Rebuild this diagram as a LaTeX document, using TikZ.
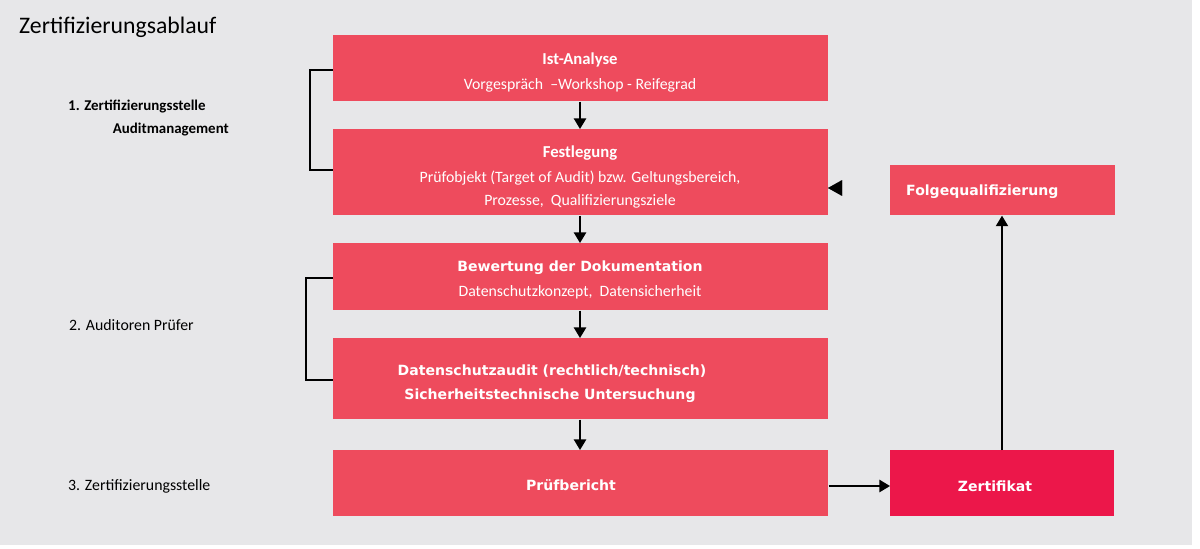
\documentclass[tikz,border=0pt]{standalone}
\usepackage{fontspec}
\setmainfont{Carlito}
\newfontfamily\vb{DejaVu Sans}
\usetikzlibrary{arrows.meta}
\definecolor{bg}{HTML}{E7E7E9}
\definecolor{boxc}{HTML}{EE4B5D}
\definecolor{certc}{HTML}{EC174A}
\begin{document}
\begin{tikzpicture}[x=0.02cm,y=-0.02cm,
  box/.style={draw=none,fill=boxc,minimum width=9.9cm,anchor=north west,inner sep=0},
  wt/.style={text=white,font=\fontsize{9}{11}\selectfont,align=center},
  bt/.style={text=white,font=\vb\bfseries\fontsize{8}{10}\selectfont,align=center},
  lab/.style={font=\fontsize{9}{11}\selectfont,anchor=west},
  arr/.style={-{Triangle[length=6pt,width=7pt]},line width=0.8pt},
  brk/.style={line width=0.8pt}]
\fill[white] (0,0) rectangle (1200,548);
\fill[bg] (0,0) rectangle (1192,545);
\useasboundingbox (0,0) rectangle (1200,548);
\node[anchor=west,font=\fontsize{13.5}{16}\selectfont] (title) at (13,27) {Zertifizierungsablauf};
% boxes
\node[box,minimum height=1.32cm] (b1) at (333,35) {};
\node[box,minimum height=1.72cm] (b2) at (333,129) {};
\node[box,minimum height=1.34cm] (b3) at (333,243) {};
\node[box,minimum height=1.62cm] (b4) at (333,338) {};
\node[box,minimum height=1.32cm] (b5) at (333,450) {};
\node[box,minimum width=4.5cm,minimum height=1.0cm] (f) at (890,165) {};
\node[box,fill=certc,minimum width=4.48cm,minimum height=1.32cm] (z) at (890,450) {};
% texts
\node[wt,font=\bfseries\fontsize{9.5}{11}\selectfont] (t1) at (580,60) {Ist-Analyse};
\begin{scope}\clip (b1.south west) rectangle (b1.north east);
\node[wt] (s1) at (580,85) {Vorgespräch\ \ –Workshop - Reifegrad};\end{scope}
\node[wt,font=\bfseries\fontsize{9.5}{11}\selectfont] (t2) at (580,153) {Festlegung};
\begin{scope}\clip (b2.south west) rectangle (b2.north east);
\node[wt] (s2) at (580,178) {Prüfobjekt\ (Target of Audit) bzw. Geltungsbereich,};
\node[wt] (s2b) at (580,201) {Prozesse,\ \ Qualifizierungsziele};\end{scope}
\node[bt] (t3) at (580,268) {Bewertung der Dokumentation};
\node[wt] (s3) at (580,292) {Datenschutzkonzept,\ \ Datensicherheit};
\begin{scope}\clip (b4.south west) rectangle (b4.north east);
\node[bt] (t4) at (552,371) {Datenschutzaudit (rechtlich/technisch)};
\node[bt] (t4b) at (550,396) {Sicherheitstechnische Untersuchung};\end{scope}
\node[bt] (t5) at (571,485) {Prüfbericht};
\node[bt,anchor=west] (tf) at (900,192) {Folgequalifizierung};
\node[bt] (tz) at (995,486) {Zertifikat};
% left labels
\node[lab,font=\bfseries\fontsize{8.5}{10}\selectfont] (l1) at (62,107) {1. Zertifizierungsstelle};
\node[lab,font=\bfseries\fontsize{8.5}{10}\selectfont,anchor=east] (l1b) at (235,130) {Auditmanagement};
\node[lab] (l2) at (63,325) {2. Auditoren Prüfer};
\node[lab] (l3) at (62,486) {3. Zertifizierungsstelle};
% brackets
\draw[brk] (333,70) -- (310,70) -- (310,170) -- (333,170);
\draw[brk] (333,278) -- (306,278) -- (306,380) -- (333,380);
% arrows
\draw[arr] (b1.south -| 580,0) -- (b2.north -| 580,0);
\draw[arr] (b2.south -| 580,0) -- (b3.north -| 580,0);
\draw[arr] (b3.south -| 580,0) -- (b4.north -| 580,0);
\draw[arr] (b4.south -| 580,0) -- (b5.north -| 580,0);
\draw[arr] (b5.east |- 0,486) -- (z.west |- 0,486);
\draw[arr] (z.north -| 1002,0) -- (f.south -| 1002,0);
\coordinate (fa) at (840,188);
\draw[-{Triangle[length=8pt,width=9pt]},line width=0.01pt] (fa) -- ++(-12,0);
\end{tikzpicture}
\end{document}
